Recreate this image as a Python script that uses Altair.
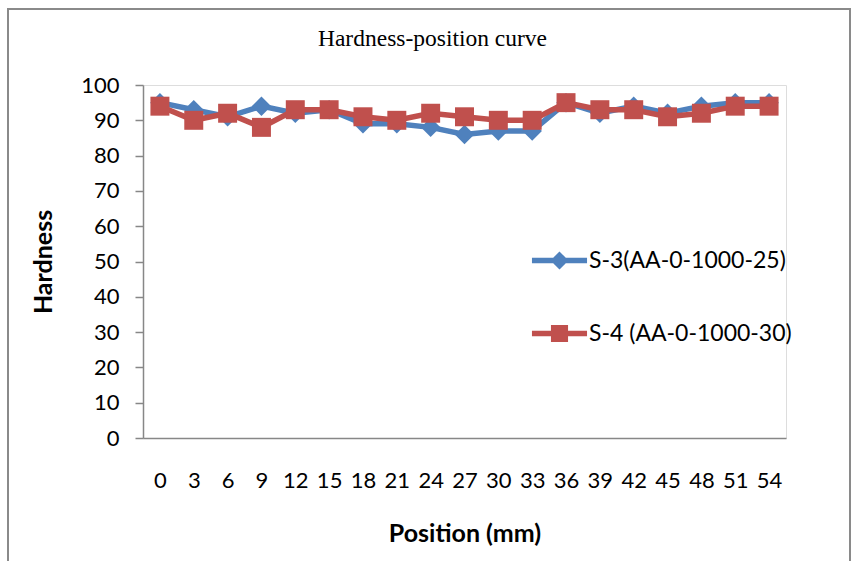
import altair as alt
import pandas as pd

# ---- data ----
positions = [0, 3, 6, 9, 12, 15, 18, 21, 24, 27, 30, 33, 36, 39, 42, 45, 48, 51, 54]
s3_values = [95, 93, 91, 94, 92, 93, 89, 89, 88, 86, 87, 87, 95, 92, 94, 92, 94, 95, 95]
s4_values = [94, 90, 92, 88, 93, 93, 91, 90, 92, 91, 90, 90, 95, 93, 93, 91, 92, 94, 94]
series_names = ["S-3(AA-0-1000-25)", "S-4 (AA-0-1000-30)"]
series_colors = ["#4F81BD", "#C0504D"]
series_shapes = ["diamond", "square"]
y_ticks = [0, 10, 20, 30, 40, 50, 60, 70, 80, 90, 100]

# legend symbols: line segment with the marker in the middle (unit coords)
legend_paths = [
    "M-3.06,-0.3L-0.7,-0.3L0,-1L0.7,-0.3L3.06,-0.3L3.06,0.3L0.7,0.3L0,1L-0.7,0.3L-3.06,0.3Z",
    "M-3.06,-0.3L-0.95,-0.3L-0.95,-0.95L0.95,-0.95L0.95,-0.3L3.06,-0.3L3.06,0.3L0.95,0.3L0.95,0.95L-0.95,0.95L-0.95,0.3L-3.06,0.3Z",
]

df = pd.DataFrame({
    "position": positions + positions,
    "hardness": s3_values + s4_values,
    "series": [series_names[0]] * len(positions) + [series_names[1]] * len(positions),
})

AXIS_GRAY = "#878787"
FONT = "Lato"

x_enc = alt.X(
    "position:O",
    scale=alt.Scale(type="point", padding=0.5),
    axis=alt.Axis(
        title="Position (mm)", labelAngle=0, ticks=False, tickSize=0,
        labelPadding=32, labelFont=FONT, labelFontSize=22, labelColor="black",
        titleFont=FONT, titleFontSize=25, titleFontWeight="bold", titleColor="black",
        titleY=103, titleBaseline="alphabetic",
        domainColor=AXIS_GRAY, domainWidth=1.5, grid=False,
    ),
)
y_enc = alt.Y(
    "hardness:Q",
    scale=alt.Scale(domain=[0, 100], nice=False),
    axis=alt.Axis(
        values=y_ticks, title="Hardness", labelFont=FONT, labelFontSize=22,
        labelColor="black", labelPadding=16, tickSize=8, tickColor=AXIS_GRAY,
        tickWidth=1.5, domainColor=AXIS_GRAY, domainWidth=1.5, grid=False,
        titleFont=FONT, titleFontSize=25, titleFontWeight="bold", titleColor="black",
        titleX=-92, titleBaseline="alphabetic",
    ),
)

base = alt.Chart(df)

layers = []
marker_sizes = [380, 360]
for i, name in enumerate(series_names):
    sub = base.transform_filter(alt.datum.series == name)
    layers.append(
        sub.mark_line(color=series_colors[i], strokeWidth=5.5).encode(x=x_enc, y=y_enc)
    )
    layers.append(
        sub.mark_point(shape=series_shapes[i], filled=True, size=marker_sizes[i],
                       color=series_colors[i], opacity=1).encode(x=x_enc, y=y_enc)
    )

leg = alt.Legend(
    title=None, orient="none", legendX=405, legendY=164, padding=0, rowPadding=49,
    labelFont=FONT, labelFontSize=23, labelColor="black", labelOffset=18, labelLimit=0,
    symbolSize=324, symbolStrokeWidth=0, symbolOpacity=1,
)
legend_layer = (
    alt.Chart(pd.DataFrame({"series": series_names}))
    .transform_filter("false")
    .mark_point(filled=True, opacity=1, size=324)
    .encode(
        color=alt.Color("series:N", scale=alt.Scale(domain=series_names, range=series_colors), legend=leg),
        shape=alt.Shape("series:N", scale=alt.Scale(domain=series_names, range=legend_paths), legend=leg),
    )
)

frame = (
    alt.Chart(pd.DataFrame({"frame": [0]}))
    .mark_rect(fillOpacity=0, stroke="#8a8a8a", strokeWidth=2)
    .encode(x=alt.value(-135), x2=alt.value(707), y=alt.value(-76), y2=alt.value(480))
)

chart = (
    alt.layer(frame, *layers, legend_layer)
    .properties(
        width=643, height=353,
        autosize=alt.AutoSizeParams(type="none"),
        padding={"left": 143, "top": 85, "right": 67, "bottom": 123},
        title=alt.TitleParams(
            "Hardness-position curve", font="Liberation Serif", fontSize=23.5,
            fontWeight="normal", color="black", anchor="middle", frame="group",
            dx=-32, offset=-61, baseline="alphabetic",
        ),
    )
    .configure_view(stroke=None)
    .configure(background="white")
)

chart.save("out.html", embed_options={"renderer": "svg", "actions": False})
